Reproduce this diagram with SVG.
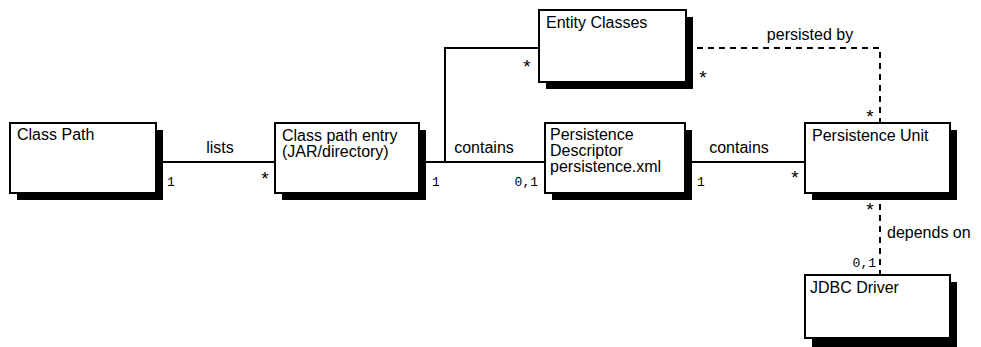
<svg xmlns="http://www.w3.org/2000/svg" width="981" height="347" viewBox="0 0 981 347">
<style>
.sh{fill:#000}
.bx{fill:#fff;stroke:#000;stroke-width:2}
.t{font-family:"Liberation Sans",Arial,sans-serif;font-size:16px;fill:#000}
.m{font-family:"Liberation Mono","DejaVu Sans Mono",monospace;font-size:13px;fill:#000}
.a{font-family:"Liberation Sans",Arial,sans-serif;font-size:19px;fill:#000;text-anchor:middle}
.ln{fill:none;stroke:#000;stroke-width:2}
.ds{fill:none;stroke:#000;stroke-width:2;stroke-dasharray:6,5}
</style>
<rect width="981" height="347" fill="#fff"/>
<g id="connectors">
<path class="ln" d="M156,162 H275"/>
<path class="ln" d="M419,162 H545"/>
<path class="ln" d="M445,162 V48 H539"/>
<path class="ln" d="M685,162 H805"/>
<path class="ds" d="M686,48 H880 V123"/>
<path class="ds" d="M880,193 V275"/>
<text class="t" x="220" y="153" text-anchor="middle">lists</text>
<text class="m" x="167" y="186">1</text>
<text class="a" x="265" y="185">*</text>
<text class="t" x="484" y="153" text-anchor="middle">contains</text>
<text class="m" x="432" y="186">1</text>
<text class="m" x="538" y="186" text-anchor="end">0,1</text>
<text class="a" x="527" y="73">*</text>
<text class="t" x="739" y="153" text-anchor="middle">contains</text>
<text class="m" x="697" y="186">1</text>
<text class="a" x="795" y="184">*</text>
<text class="t" x="810" y="40" text-anchor="middle">persisted by</text>
<text class="a" x="703" y="84">*</text>
<text class="a" x="870" y="123">*</text>
<text class="a" x="870" y="216">*</text>
<text class="t" x="887" y="238">depends on</text>
<text class="m" x="876" y="267" text-anchor="end">0,1</text>
</g>
<g id="class-path">
<rect class="sh" x="17" y="130" width="146" height="70"/>
<rect class="bx" x="10" y="123" width="146" height="70"/>
<text class="t" x="17" y="140">Class Path</text>
</g>
<g id="class-path-entry">
<rect class="sh" x="282" y="130" width="144" height="70"/>
<rect class="bx" x="275" y="123" width="144" height="70"/>
<text class="t" x="282" y="141">Class path entry</text>
<text class="t" x="282" y="157">(JAR/directory)</text>
</g>
<g id="entity-classes">
<rect class="sh" x="546" y="17" width="147" height="72"/>
<rect class="bx" x="539" y="10" width="147" height="72"/>
<text class="t" x="546" y="28">Entity Classes</text>
</g>
<g id="persistence-descriptor">
<rect class="sh" x="552" y="130" width="140" height="70"/>
<rect class="bx" x="545" y="123" width="140" height="70"/>
<text class="t" x="550" y="140">Persistence</text>
<text class="t" x="550" y="156">Descriptor</text>
<text class="t" x="550" y="172">persistence.xml</text>
</g>
<g id="persistence-unit">
<rect class="sh" x="812" y="130" width="145" height="70"/>
<rect class="bx" x="805" y="123" width="145" height="70"/>
<text class="t" x="812" y="141">Persistence Unit</text>
</g>
<g id="jdbc-driver">
<rect class="sh" x="812" y="282" width="145" height="70"/>
<rect class="bx" x="805" y="275" width="145" height="63"/>
<text class="t" x="810" y="293">JDBC Driver</text>
</g>
</svg>
